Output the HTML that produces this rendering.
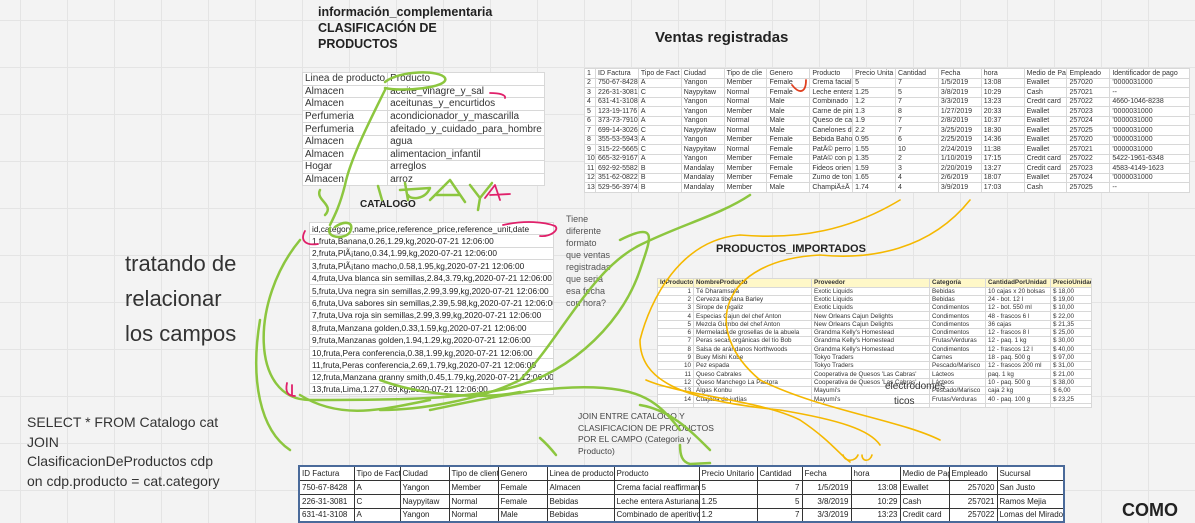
<!DOCTYPE html>
<html><head><meta charset="utf-8"><style>
body{margin:0;width:1195px;height:509px;overflow:hidden;position:relative;font-family:"Liberation Sans",sans-serif;
background-color:#f3f3f3;background-image:linear-gradient(#e4e4e4 1px,transparent 1px),linear-gradient(90deg,#e4e4e4 1px,transparent 1px);background-size:47px 47px;background-position:20px 20px}
.a{position:absolute;white-space:nowrap}
table{border-collapse:collapse;background:#fff;position:absolute}
td{padding:0 2px;overflow:hidden;white-space:nowrap;border:1px solid #d8d8d8}
.b td{border-color:#333}
.r{text-align:right}
</style></head><body>
<div class="a" style="left:318px;top:4px;font-weight:bold;font-size:12.5px;line-height:16px;color:#222">información_complementaria<br>CLASIFICACIÓN DE<br>PRODUCTOS</div>
<table style="left:302px;top:72px;width:240px;font-size:10px;color:#333">
<tr style="height:12.6px"><td style="width:86px">Linea de producto</td><td>Producto</td></tr>
<tr style="height:12.6px"><td>Almacen</td><td>aceite_vinagre_y_sal</td></tr>
<tr style="height:12.6px"><td>Almacen</td><td>aceitunas_y_encurtidos</td></tr>
<tr style="height:12.6px"><td>Perfumeria</td><td>acondicionador_y_mascarilla</td></tr>
<tr style="height:12.6px"><td>Perfumeria</td><td>afeitado_y_cuidado_para_hombre</td></tr>
<tr style="height:12.6px"><td>Almacen</td><td>agua</td></tr>
<tr style="height:12.6px"><td>Almacen</td><td>alimentacion_infantil</td></tr>
<tr style="height:12.6px"><td>Hogar</td><td>arreglos</td></tr>
<tr style="height:12.6px"><td>Almacen</td><td>arroz</td></tr>
</table>
<div class="a" style="left:655px;top:29px;font-weight:bold;font-size:15px;color:#222">Ventas registradas</div>
<table style="left:584px;top:68px;width:606px;font-size:7px;color:#333;table-layout:fixed">
<colgroup><col style="width:9px"><col style="width:35px"><col style="width:35px"><col style="width:35px"><col style="width:35px"><col style="width:35px"><col style="width:35px"><col style="width:35px"><col style="width:35px"><col style="width:35px"><col style="width:35px"><col style="width:35px"><col style="width:35px"><col style="width:65px"></colgroup>
<tr style="height:9.5px"><td>1</td><td>ID Factura</td><td>Tipo de Fact</td><td>Ciudad</td><td>Tipo de clie</td><td>Genero</td><td>Producto</td><td>Precio Unita</td><td>Cantidad</td><td>Fecha</td><td>hora</td><td>Medio de Pa</td><td>Empleado</td><td>Identificador de pago</td></tr>
<tr style="height:9.5px"><td>2</td><td>750-67-8428</td><td>A</td><td>Yangon</td><td>Member</td><td>Female</td><td>Crema facial</td><td>5</td><td>7</td><td>1/5/2019</td><td>13:08</td><td>Ewallet</td><td>257020</td><td>'0000031000</td></tr>
<tr style="height:9.5px"><td>3</td><td>226-31-3081</td><td>C</td><td>Naypyitaw</td><td>Normal</td><td>Female</td><td>Leche entera</td><td>1.25</td><td>5</td><td>3/8/2019</td><td>10:29</td><td>Cash</td><td>257021</td><td>--</td></tr>
<tr style="height:9.5px"><td>4</td><td>631-41-3108</td><td>A</td><td>Yangon</td><td>Normal</td><td>Male</td><td>Combinado</td><td>1.2</td><td>7</td><td>3/3/2019</td><td>13:23</td><td>Credit card</td><td>257022</td><td>4660-1046-8238</td></tr>
<tr style="height:9.5px"><td>5</td><td>123-19-1176</td><td>A</td><td>Yangon</td><td>Member</td><td>Male</td><td>Carne de pin</td><td>1.3</td><td>8</td><td>1/27/2019</td><td>20:33</td><td>Ewallet</td><td>257023</td><td>'0000031000</td></tr>
<tr style="height:9.5px"><td>6</td><td>373-73-7910</td><td>A</td><td>Yangon</td><td>Normal</td><td>Male</td><td>Queso de ca</td><td>1.9</td><td>7</td><td>2/8/2019</td><td>10:37</td><td>Ewallet</td><td>257024</td><td>'0000031000</td></tr>
<tr style="height:9.5px"><td>7</td><td>699-14-3026</td><td>C</td><td>Naypyitaw</td><td>Normal</td><td>Male</td><td>Canelones d</td><td>2.2</td><td>7</td><td>3/25/2019</td><td>18:30</td><td>Ewallet</td><td>257025</td><td>'0000031000</td></tr>
<tr style="height:9.5px"><td>8</td><td>355-53-5943</td><td>A</td><td>Yangon</td><td>Member</td><td>Female</td><td>Bebida Baho</td><td>0.95</td><td>6</td><td>2/25/2019</td><td>14:36</td><td>Ewallet</td><td>257020</td><td>'0000031000</td></tr>
<tr style="height:9.5px"><td>9</td><td>315-22-5665</td><td>C</td><td>Naypyitaw</td><td>Normal</td><td>Female</td><td>PatÃ© perro</td><td>1.55</td><td>10</td><td>2/24/2019</td><td>11:38</td><td>Ewallet</td><td>257021</td><td>'0000031000</td></tr>
<tr style="height:9.5px"><td>10</td><td>665-32-9167</td><td>A</td><td>Yangon</td><td>Member</td><td>Female</td><td>PatÃ© con p</td><td>1.35</td><td>2</td><td>1/10/2019</td><td>17:15</td><td>Credit card</td><td>257022</td><td>5422-1961-6348</td></tr>
<tr style="height:9.5px"><td>11</td><td>692-92-5582</td><td>B</td><td>Mandalay</td><td>Member</td><td>Female</td><td>Fideos orien</td><td>1.59</td><td>3</td><td>2/20/2019</td><td>13:27</td><td>Credit card</td><td>257023</td><td>4583-4149-1623</td></tr>
<tr style="height:9.5px"><td>12</td><td>351-62-0822</td><td>B</td><td>Mandalay</td><td>Member</td><td>Female</td><td>Zumo de ton</td><td>1.65</td><td>4</td><td>2/6/2019</td><td>18:07</td><td>Ewallet</td><td>257024</td><td>'0000031000</td></tr>
<tr style="height:9.5px"><td>13</td><td>529-56-3974</td><td>B</td><td>Mandalay</td><td>Member</td><td>Male</td><td>ChampiÃ±Ã</td><td>1.74</td><td>4</td><td>3/9/2019</td><td>17:03</td><td>Cash</td><td>257025</td><td>--</td></tr>
</table>
<div class="a" style="left:360px;top:199px;font-weight:bold;font-size:10px;color:#222">CATALOGO</div>
<table style="left:309px;top:222px;width:245px;font-size:8.3px;color:#222;table-layout:fixed">
<tr style="height:12.4px"><td>id,category,name,price,reference_price,reference_unit,date</td></tr>
<tr style="height:12.4px"><td>1,fruta,Banana,0.26,1.29,kg,2020-07-21 12:06:00</td></tr>
<tr style="height:12.4px"><td>2,fruta,PlÃ¡tano,0.34,1.99,kg,2020-07-21 12:06:00</td></tr>
<tr style="height:12.4px"><td>3,fruta,PlÃ¡tano macho,0.58,1.95,kg,2020-07-21 12:06:00</td></tr>
<tr style="height:12.4px"><td>4,fruta,Uva blanca sin semillas,2.84,3.79,kg,2020-07-21 12:06:00</td></tr>
<tr style="height:12.4px"><td>5,fruta,Uva negra sin semillas,2.99,3.99,kg,2020-07-21 12:06:00</td></tr>
<tr style="height:12.4px"><td>6,fruta,Uva sabores sin semillas,2.39,5.98,kg,2020-07-21 12:06:00</td></tr>
<tr style="height:12.4px"><td>7,fruta,Uva roja sin semillas,2.99,3.99,kg,2020-07-21 12:06:00</td></tr>
<tr style="height:12.4px"><td>8,fruta,Manzana golden,0.33,1.59,kg,2020-07-21 12:06:00</td></tr>
<tr style="height:12.4px"><td>9,fruta,Manzanas golden,1.94,1.29,kg,2020-07-21 12:06:00</td></tr>
<tr style="height:12.4px"><td>10,fruta,Pera conferencia,0.38,1.99,kg,2020-07-21 12:06:00</td></tr>
<tr style="height:12.4px"><td>11,fruta,Peras conferencia,2.69,1.79,kg,2020-07-21 12:06:00</td></tr>
<tr style="height:12.4px"><td>12,fruta,Manzana granny smith,0.45,1.79,kg,2020-07-21 12:06:00</td></tr>
<tr style="height:8px"><td>13,fruta,Lima,1.27,0.69,kg,2020-07-21 12:06:00</td></tr>
</table>
<div class="a" style="left:566px;top:213px;font-size:9px;line-height:12px;color:#555">Tiene<br>diferente<br>formato<br>que ventas<br>registradas<br>que seria<br>esa fecha<br>con hora?</div>
<div class="a" style="left:125px;top:246px;font-size:22px;line-height:35px;color:#333">tratando de<br>relacionar<br>los campos</div>
<div class="a" style="left:716px;top:243px;font-weight:bold;font-size:11px;color:#222">PRODUCTOS_IMPORTADOS</div>
<table style="left:657px;top:278px;width:434px;font-size:6.3px;color:#333;table-layout:fixed">
<colgroup><col style="width:36px"><col style="width:118px"><col style="width:118px"><col style="width:56px"><col style="width:65px"><col style="width:41px"></colgroup>
<tr style="height:8.5px;background:#fff8c8;font-weight:bold"><td>IdProducto</td><td>NombreProducto</td><td>Proveedor</td><td>Categoría</td><td>CantidadPorUnidad</td><td>PrecioUnidad</td></tr>
<tr style="height:8.3px"><td class="r">1</td><td>Té Dharamsala</td><td>Exotic Liquids</td><td>Bebidas</td><td>10 cajas x 20 bolsas</td><td>$ 18,00</td></tr>
<tr style="height:8.3px"><td class="r">2</td><td>Cerveza tibetana Barley</td><td>Exotic Liquids</td><td>Bebidas</td><td>24 - bot. 12 l</td><td>$ 19,00</td></tr>
<tr style="height:8.3px"><td class="r">3</td><td>Sirope de regaliz</td><td>Exotic Liquids</td><td>Condimentos</td><td>12 - bot. 550 ml</td><td>$ 10,00</td></tr>
<tr style="height:8.3px"><td class="r">4</td><td>Especias Cajun del chef Anton</td><td>New Orleans Cajun Delights</td><td>Condimentos</td><td>48 - frascos 6 l</td><td>$ 22,00</td></tr>
<tr style="height:8.3px"><td class="r">5</td><td>Mezcla Gumbo del chef Anton</td><td>New Orleans Cajun Delights</td><td>Condimentos</td><td>36 cajas</td><td>$ 21,35</td></tr>
<tr style="height:8.3px"><td class="r">6</td><td>Mermelada de grosellas de la abuela</td><td>Grandma Kelly's Homestead</td><td>Condimentos</td><td>12 - frascos 8 l</td><td>$ 25,00</td></tr>
<tr style="height:8.3px"><td class="r">7</td><td>Peras secas orgánicas del tío Bob</td><td>Grandma Kelly's Homestead</td><td>Frutas/Verduras</td><td>12 - paq. 1 kg</td><td>$ 30,00</td></tr>
<tr style="height:8.3px"><td class="r">8</td><td>Salsa de arándanos Northwoods</td><td>Grandma Kelly's Homestead</td><td>Condimentos</td><td>12 - frascos 12 l</td><td>$ 40,00</td></tr>
<tr style="height:8.3px"><td class="r">9</td><td>Buey Mishi Kobe</td><td>Tokyo Traders</td><td>Carnes</td><td>18 - paq. 500 g</td><td>$ 97,00</td></tr>
<tr style="height:8.3px"><td class="r">10</td><td>Pez espada</td><td>Tokyo Traders</td><td>Pescado/Marisco</td><td>12 - frascos 200 ml</td><td>$ 31,00</td></tr>
<tr style="height:8.3px"><td class="r">11</td><td>Queso Cabrales</td><td>Cooperativa de Quesos 'Las Cabras'</td><td>Lácteos</td><td>paq. 1 kg</td><td>$ 21,00</td></tr>
<tr style="height:8.3px"><td class="r">12</td><td>Queso Manchego La Pastora</td><td>Cooperativa de Quesos 'Las Cabras'</td><td>Lácteos</td><td>10 - paq. 500 g</td><td>$ 38,00</td></tr>
<tr style="height:8.3px"><td class="r">13</td><td>Algas Konbu</td><td>Mayumi's</td><td>Pescado/Marisco</td><td>caja 2 kg</td><td>$ 6,00</td></tr>
<tr style="height:8.3px"><td class="r">14</td><td>Cuajada de judías</td><td>Mayumi's</td><td>Frutas/Verduras</td><td>40 - paq. 100 g</td><td>$ 23,25</td></tr>
<tr style="height:4px"><td></td><td></td><td></td><td></td><td></td><td></td></tr>
</table>
<div class="a" style="left:885px;top:381px;font-size:10px;color:#333">electrodomes</div>
<div class="a" style="left:894px;top:396px;font-size:10px;color:#333">ticos</div>
<div class="a" style="left:578px;top:411px;font-size:8.5px;line-height:11.5px;color:#444">JOIN ENTRE CATALOGO Y<br>CLASIFICACION DE PRODUCTOS<br>POR EL CAMPO (Categoria y<br>Producto)</div>
<div class="a" style="left:27px;top:413px;font-size:14px;line-height:19.5px;color:#333">SELECT * FROM Catalogo cat<br>JOIN<br>ClasificacionDeProductos cdp<br>on cdp.producto = cat.category</div>
<table class="b" style="left:298px;top:465px;width:765px;font-size:8px;color:#222;table-layout:fixed;border:2px solid #4a6a9a">
<colgroup><col style="width:55px"><col style="width:46px"><col style="width:49px"><col style="width:49px"><col style="width:49px"><col style="width:67px"><col style="width:85px"><col style="width:58px"><col style="width:45px"><col style="width:49px"><col style="width:49px"><col style="width:49px"><col style="width:48px"><col style="width:67px"></colgroup>
<tr style="height:14px"><td>ID Factura</td><td>Tipo de Factu</td><td>Ciudad</td><td>Tipo de client</td><td>Genero</td><td>Linea de producto</td><td>Producto</td><td>Precio Unitario</td><td>Cantidad</td><td>Fecha</td><td>hora</td><td>Medio de Pag</td><td>Empleado</td><td>Sucursal</td></tr>
<tr style="height:14px"><td>750-67-8428</td><td>A</td><td>Yangon</td><td>Member</td><td>Female</td><td>Almacen</td><td>Crema facial reaffirman</td><td>5</td><td class="r">7</td><td class="r">1/5/2019</td><td class="r">13:08</td><td>Ewallet</td><td class="r">257020</td><td>San Justo</td></tr>
<tr style="height:14px"><td>226-31-3081</td><td>C</td><td>Naypyitaw</td><td>Normal</td><td>Female</td><td>Bebidas</td><td>Leche entera Asturiana</td><td>1.25</td><td class="r">5</td><td class="r">3/8/2019</td><td class="r">10:29</td><td>Cash</td><td class="r">257021</td><td>Ramos Mejia</td></tr>
<tr style="height:14px"><td>631-41-3108</td><td>A</td><td>Yangon</td><td>Normal</td><td>Male</td><td>Bebidas</td><td>Combinado de aperitivo</td><td>1.2</td><td class="r">7</td><td class="r">3/3/2019</td><td class="r">13:23</td><td>Credit card</td><td class="r">257022</td><td>Lomas del Mirador</td></tr>
</table>
<div class="a" style="left:1122px;top:500px;font-weight:bold;font-size:18px;color:#222">COMO</div>
<svg width="1195" height="509" style="position:absolute;left:0;top:0" fill="none" stroke-linecap="round" stroke-linejoin="round">
<g stroke="#8cc63f" stroke-width="2.5">
<path d="M385 82 C400 70 440 70 445 78 C450 88 400 92 385 88"/>
<path d="M385 90 C370 120 350 160 345 185 C340 205 335 215 330 225"/>
<path d="M320 190 C315 200 335 205 325 215"/>
<path d="M378 186 L382 200"/>
<path d="M405 183 L408 200 M400 190 L430 188 C425 200 410 200 408 195"/>
<path d="M430 200 L450 180 L465 202 M435 195 L460 195"/>
<path d="M470 185 L480 198 L492 183 M480 198 L478 210"/>
<path d="M335 227 C345 220 355 222 350 232 C345 240 325 238 330 228"/>
<path d="M300 240 C250 300 250 400 310 400 C380 400 450 400 500 390 C560 380 620 330 640 270 C650 240 660 220 620 240"/>
<path d="M750 195 C720 215 680 225 640 245 C590 270 560 340 520 380 C480 400 420 410 380 410"/>
<path d="M300 395 C340 420 380 410 430 400"/>
<path d="M380 380 C420 395 480 400 520 392"/>
<path d="M260 320 C250 380 260 430 290 450"/>
<path d="M430 410 C480 400 560 380 620 390 C650 395 665 410 680 430"/>
<path d="M640 405 C670 410 690 430 710 450"/>
<path d="M540 438 C548 445 552 450 556 455"/>
<path d="M680 445 C680 455 682 462 690 464 L710 463"/>
</g>
<g stroke="#f5b800" stroke-width="1.6">
<path d="M900 200 C850 230 800 240 740 235 C680 240 650 300 640 340 C640 380 680 400 780 410 C840 420 870 430 880 445"/>
<path d="M970 200 C930 250 870 260 820 255 C720 260 700 330 760 380 C820 410 900 420 940 440"/>
<path d="M646 380 C680 395 760 400 800 420 C830 440 840 455 850 462"/>
<path d="M843 455 C845 462 855 462 858 455 M862 455 C862 462 870 462 872 455"/>
</g>
<g stroke="#e0206a" stroke-width="1.8">
<path d="M490 93 C500 93 506 95 505 98"/>
<path d="M305 231 C300 240 305 246 318 244"/>
<path d="M503 225 C525 220 545 222 555 226 C560 230 550 237 540 236"/>
<path d="M287 383 C285 392 288 396 295 396 M292 385 L292 395"/>
<path d="M485 198 L495 185 L500 200 M490 195 L510 194"/>
</g>
<path d="M792 85 C800 95 806 92 806 80" stroke="#e04020" stroke-width="1.8"/>
</svg>
</body></html>
